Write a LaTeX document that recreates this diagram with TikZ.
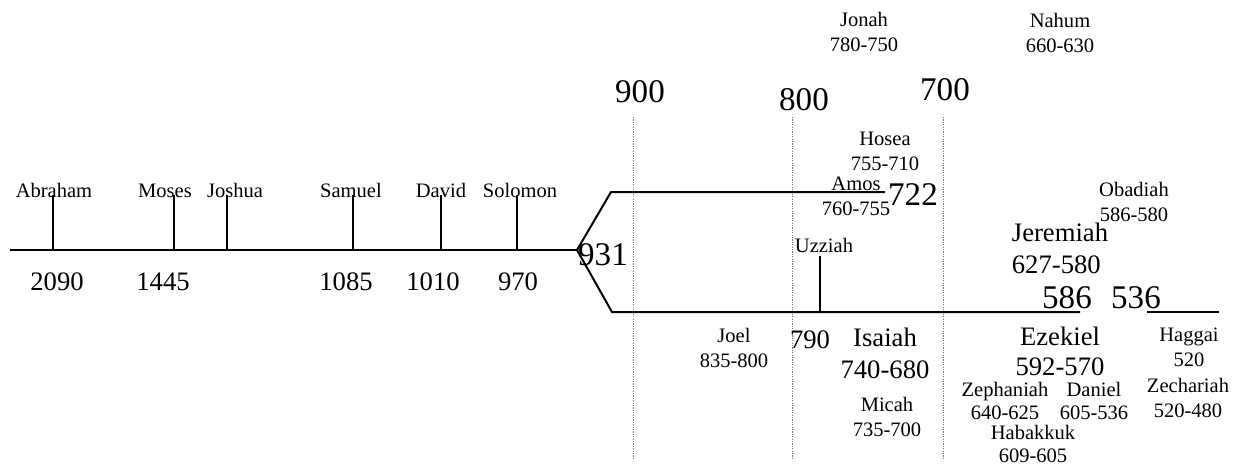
\documentclass[tikz,border=0pt]{standalone}
\usepackage{fontspec}
\setmainfont{Liberation Serif}

\tikzset{
  smalltext/.style={font=\fontsize{15.4}{18.75}\selectfont, inner sep=0.75pt, align=center},
  tighttext/.style={font=\fontsize{15.4}{17.25}\selectfont, inner sep=0.75pt, align=center},
  midtext/.style={font=\fontsize{20}{23.5}\selectfont, inner sep=0.75pt, align=center},
  bigtext/.style={font=\fontsize{24.8}{30}\selectfont, inner sep=0.75pt},
  rule/.style={line width=1.5pt},
  century/.style={line width=0.6pt, black!55, dash pattern=on 0.9pt off 0.9pt},
}

\begin{document}
\begin{tikzpicture}[x=0.75pt,y=0.75pt,yscale=-1,xscale=1]
\useasboundingbox (0,0) rectangle (1238,467);

%Century lines
\draw [century] (633,117) -- (633,460) ;
\draw [century] (792,117) -- (792,460) ;
\draw [century] (943,117) -- (943,460) ;

%Straight Lines: united kingdom, then the split
\coordinate (start) at (10,250);
\coordinate (fork) at (577,250);
\coordinate (northA) at (611,192);
\coordinate (northB) at (885,192);
\coordinate (southA) at (612,312);
\coordinate (southB) at (1080,312);
\coordinate (backA) at (1147,312);
\coordinate (backB) at (1219,312);
\draw [rule] (start) -- (fork) ;
\draw [rule] (northB) -- (northA) -- (fork) -- (southA) -- (southB) ;
\draw [rule] (backA) -- (backB) ;

%Ticks
\draw [rule] (53,195) -- (53,250) ;
\draw [rule] (174,195) -- (174,250) ;
\draw [rule] (227,195) -- (227,250) ;
\draw [rule] (353,195) -- (353,250) ;
\draw [rule] (441,195) -- (441,250) ;
\draw [rule] (517,195) -- (517,250) ;
\draw [rule] (820,256) -- (820,312) ;

% Text Node
\node [smalltext, anchor=base] (abraham) at (54,197) {Abraham};
\node [smalltext, anchor=base] (moses) at (165,197) {Moses};
\node [smalltext, anchor=base] (joshua) at (235,197) {Joshua};
\node [smalltext, anchor=base] (samuel) at (351,197) {Samuel};
\node [smalltext, anchor=base] (david) at (441,197) {David};
\node [smalltext, anchor=base] (solomon) at (520,197) {Solomon};
% Text Node
\node [midtext, anchor=base] (y2090) at (57,290) {2090};
\node [midtext, anchor=base] (y1445) at (163,290) {1445};
\node [midtext, anchor=base] (y1085) at (346,290) {1085};
\node [midtext, anchor=base] (y1010) at (433,290) {1010};
\node [midtext, anchor=base] (y970) at (518,290) {970};
% Text Node
\node [bigtext, anchor=base] (y931) at (603,265) {931};
\node [bigtext, anchor=base] (y900) at (640,103) {900};
\node [bigtext, anchor=base] (y800) at (804,110) {800};
\node [bigtext, anchor=base] (y700) at (945,100) {700};
\node [bigtext, anchor=base] (y722) at (913,205) {722};
\node [bigtext, anchor=base] (y586) at (1067,308) {586};
\node [bigtext, anchor=base] (y536) at (1136,308) {536};
\node [midtext, anchor=base] (y790) at (810,348) {790};
% Text Node
\node [smalltext, anchor=north] (uzziah) at (824,237) {Uzziah};
\node [smalltext, anchor=north] (jonah) at (864,11) {Jonah\\780-750};
\node [smalltext, anchor=north] (nahum) at (1060,12) {Nahum\\660-630};
\node [smalltext, anchor=north] (hosea) at (885,131) {Hosea\\755-710};
\node [smalltext, anchor=north] (amos) at (856,176) {Amos\\760-755};
\node [smalltext, anchor=north] (obadiah) at (1134,181) {Obadiah\\586-580};
\node [midtext, anchor=north, align=left] (jeremiah) at (1060,222) {Jeremiah\\627-580};
\node [smalltext, anchor=north] (joel) at (734,327) {Joel\\835-800};
\node [midtext, anchor=north] (isaiah) at (885,327) {Isaiah\\740-680};
\node [smalltext, anchor=north] (micah) at (887,396) {Micah\\735-700};
\node [midtext, anchor=north, font=\fontsize{20}{22.5}\selectfont] (ezekiel) at (1060,326) {Ezekiel\\592-570};
\node [tighttext, anchor=north] (zephaniah) at (1005,381) {Zephaniah\\640-625};
\node [tighttext, anchor=north] (daniel) at (1094,381) {Daniel\\605-536};
\node [tighttext, anchor=north] (habakkuk) at (1033,424) {Habakkuk\\609-605};
\node [smalltext, anchor=north] (haggai) at (1189,327) {Haggai\\520};
\node [smalltext, anchor=north] (zechariah) at (1188,377) {Zechariah\\520-480};

\end{tikzpicture}
\end{document}
